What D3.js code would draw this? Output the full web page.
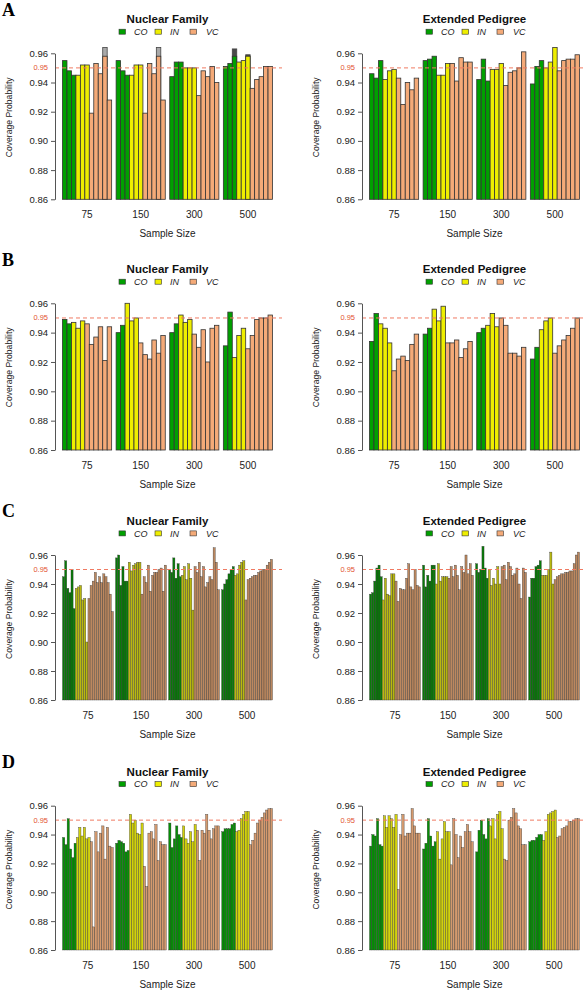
<!DOCTYPE html>
<html><head><meta charset="utf-8">
<script src="https://cdn.jsdelivr.net/npm/d3@7"></script>
<style>body{margin:0;background:#fff}svg{display:block}</style>
</head><body>
<script>
// ---------- data ----------
const sampleSizes = ["75","150","300","500"];
const methods = ["CO","IN","VC"];
const yTicks = [0.86,0.88,0.90,0.92,0.94,0.96];
const refValue = 0.95;
const panelLetters = ["A","B","C","D"];
const designs = ["Nuclear Family","Extended Pedigree"];

// Panel A
const A_nuc_CO = [[0.955,0.948,0.945],[0.955,0.948,0.945],[0.944,0.954,0.954],[0.951,0.953,0.958]];
const A_nuc_IN = [[0.945,0.952,0.952],[0.945,0.952,0.952],[0.950,0.950,0.950],[0.954,0.955,0.958]];
const A_nuc_VC = [[0.919,0.953,0.946,0.958,0.928],[0.919,0.953,0.946,0.958,0.928],[0.931,0.948,0.944,0.951,0.940],[0.936,0.942,0.944,0.951,0.951]];
// overlapping (grey) upper values: [group, method, index, value]
const A_nuc_lightOver = [[0,"VC",3,0.964],[1,"VC",3,0.964]];
const A_nuc_darkOver = [[3,"CO",2,0.963],[3,"IN",2,0.959]];
const A_ext_CO = [[0.946,0.943,0.955],[0.955,0.956,0.958],[0.942,0.956,0.941],[0.939,0.951,0.955]];
const A_ext_IN = [[0.942,0.948,0.949],[0.945,0.945,0.953],[0.949,0.949,0.953],[0.950,0.954,0.964]];
const A_ext_VC = [[0.943,0.925,0.940,0.935,0.943],[0.953,0.941,0.957,0.954,0.954],[0.938,0.947,0.948,0.950,0.961],[0.948,0.955,0.956,0.956,0.959]];

// Panel B
const B_nuc_CO = [[0.949,0.946],[0.940,0.945],[0.940,0.946],[0.931,0.954]];
const B_nuc_IN = [[0.947,0.943,0.948],[0.960,0.948,0.950],[0.952,0.947,0.949],[0.923,0.938,0.943]];
const B_nuc_VC = [[0.946,0.932,0.937,0.944,0.921,0.944],[0.933,0.925,0.922,0.935,0.926,0.938],[0.939,0.930,0.942,0.920,0.943,0.945],[0.929,0.938,0.949,0.950,0.950,0.952]];
const B_ext_CO = [[0.934,0.953],[0.939,0.943],[0.940,0.943],[0.922,0.930]];
const B_ext_IN = [[0.946,0.943,0.933],[0.956,0.948,0.958],[0.945,0.953,0.944],[0.942,0.948,0.950]];
const B_ext_VC = [[0.914,0.922,0.924,0.921,0.932,0.939],[0.933,0.933,0.935,0.923,0.929,0.934],[0.950,0.945,0.926,0.926,0.924,0.930],[0.926,0.931,0.935,0.938,0.943,0.950]];

// Panel C
const C_nuc_CO = [[0.945,0.956,0.937,0.934,0.950,0.923],[0.958,0.960,0.939,0.952,0.942,0.942],[0.950,0.948,0.958,0.944,0.954,0.945],[0.936,0.940,0.943,0.947,0.950,0.952]];
const C_nuc_IN = [[0.937,0.938,0.939,0.929,0.930,0.900],[0.955,0.949,0.953,0.954,0.955,0.955],[0.946,0.952,0.943,0.954,0.944,0.922],[0.946,0.947,0.953,0.955,0.956]];
const C_nuc_VC = [[0.930,0.939,0.942,0.948,0.941,0.945,0.941,0.947,0.945,0.941,0.933,0.921],[0.933,0.945,0.941,0.953,0.935,0.946,0.948,0.948,0.950,0.951,0.935,0.953],[0.952,0.948,0.955,0.945,0.952,0.938,0.941,0.945,0.943,0.965,0.955,0.936],[0.929,0.943,0.944,0.945,0.946,0.946,0.948,0.949,0.950,0.950,0.953,0.955,0.957]];
const C_ext_CO = [[0.933,0.934,0.942,0.951,0.953,0.945],[0.953,0.938,0.946,0.942,0.953,0.953],[0.954,0.948,0.950,0.966,0.951,0.944],[0.931,0.944,0.944,0.952,0.953,0.956]];
const C_ext_IN = [[0.929,0.944,0.933,0.932,0.947,0.947],[0.940,0.954,0.942,0.945,0.945,0.945],[0.950,0.939,0.944,0.940,0.952,0.940],[0.946,0.946,0.946,0.950,0.962,0.940]];
const C_ext_VC = [[0.942,0.928,0.937,0.936,0.936,0.944,0.954,0.938,0.936,0.950,0.939,0.938],[0.944,0.952,0.945,0.953,0.946,0.936,0.952,0.948,0.960,0.947,0.954,0.946],[0.952,0.953,0.943,0.955,0.952,0.946,0.947,0.951,0.940,0.930,0.951,0.948],[0.943,0.945,0.946,0.947,0.947,0.948,0.948,0.949,0.949,0.954,0.960,0.962]];

// Panel D
const D_nuc_CO = [[0.938,0.933,0.951,0.930,0.924,0.934],[0.934,0.936,0.935,0.934,0.928,0.929],[0.948,0.931,0.937,0.946,0.940,0.938],[0.942,0.944,0.944,0.944,0.947,0.948]];
const D_nuc_IN = [[0.938,0.945,0.939,0.945,0.937,0.938],[0.954,0.948,0.950,0.941,0.940,0.948],[0.946,0.937,0.934,0.942,0.935,0.947],[0.942,0.943,0.951,0.954,0.956,0.956]];
const D_nuc_VC = [[0.935,0.876,0.942,0.928,0.941,0.946,0.923,0.945,0.932,0.931],[0.918,0.904,0.941,0.942,0.937,0.947,0.922,0.935,0.933,0.933],[0.943,0.922,0.943,0.941,0.954,0.943,0.937,0.944,0.946,0.946],[0.933,0.936,0.941,0.948,0.950,0.952,0.955,0.957,0.958,0.958]];
const D_ext_CO = [[0.932,0.940,0.939,0.951,0.933,0.932],[0.930,0.934,0.951,0.939,0.932,0.935],[0.928,0.943,0.950,0.940,0.937,0.951],[0.935,0.936,0.936,0.938,0.940,0.940]];
const D_ext_IN = [[0.953,0.945,0.953,0.951,0.945,0.954],[0.942,0.923,0.937,0.949,0.942,0.942],[0.946,0.951,0.937,0.954,0.956,0.944],[0.936,0.942,0.954,0.955,0.956,0.957]];
const D_ext_VC = [[0.902,0.940,0.954,0.939,0.941,0.941,0.958,0.946,0.941,0.941],[0.919,0.951,0.940,0.924,0.939,0.931,0.942,0.947,0.942,0.935],[0.923,0.922,0.950,0.952,0.958,0.955,0.946,0.944,0.933,0.933],[0.938,0.939,0.944,0.945,0.946,0.949,0.949,0.950,0.951,0.951]];

// ---------- layout ----------
const W = 586, H = 992;
const legendColors = {CO:"#00A000", IN:"#EEEE00", VC:"#F4AA78"};
// narrow bars in rows C and D look darker because borders dominate
const rowColors = [
  {CO:"#00A000", IN:"#EEEE00", VC:"#F4AA78"},
  {CO:"#00A000", IN:"#EEEE00", VC:"#F4AA78"},
  {CO:"#087A08", IN:"#B9B810", VC:"#BC885F"},
  {CO:"#068E06", IN:"#D2D20C", VC:"#D49A6E"}
];
const rowY96 = [53.3, 303.3, 555, 805.7];
const rowY86 = [199.3, 450, 700, 950];
const strokeW = [0.8, 0.8, 0.35, 0.35];
const colDX = [0, 307];

const panels = [
  {r:0,c:0,CO:A_nuc_CO,IN:A_nuc_IN,VC:A_nuc_VC,light:A_nuc_lightOver,dark:A_nuc_darkOver},
  {r:0,c:1,CO:A_ext_CO,IN:A_ext_IN,VC:A_ext_VC},
  {r:1,c:0,CO:B_nuc_CO,IN:B_nuc_IN,VC:B_nuc_VC},
  {r:1,c:1,CO:B_ext_CO,IN:B_ext_IN,VC:B_ext_VC},
  {r:2,c:0,CO:C_nuc_CO,IN:C_nuc_IN,VC:C_nuc_VC},
  {r:2,c:1,CO:C_ext_CO,IN:C_ext_IN,VC:C_ext_VC},
  {r:3,c:0,CO:D_nuc_CO,IN:D_nuc_IN,VC:D_nuc_VC},
  {r:3,c:1,CO:D_ext_CO,IN:D_ext_IN,VC:D_ext_VC}
];

const svg = d3.select("body").append("svg").attr("width",W).attr("height",H)
  .style("font-family","'Liberation Sans', Arial, sans-serif");

panels.forEach(p => {
  const dx = colDX[p.c], y96 = rowY96[p.r], y86 = rowY86[p.r];
  const g = svg.append("g");
  const y = d3.scaleLinear().domain([0.86,0.96]).range([y86,y96]);

  const groups = sampleSizes.map((s,gi) => {
    const bars = [];
    methods.forEach(m => p[m][gi].forEach((v,i) => bars.push({m, i, v})));
    return bars;
  });
  const n = d3.max(groups, b => b.length);
  const x0 = d3.scaleBand().domain(sampleSizes).range([dx+62.5, dx+272.5])
    .paddingInner(1/(n+1)).paddingOuter(0);
  const x1 = d3.scaleBand().domain(d3.range(n)).range([0, x0.bandwidth()]);

  // overlays (grey upper parts)
  const overlay = (list, fill) => {
    (list||[]).forEach(([gi,m,i,v]) => {
      const idx = groups[gi].findIndex(b => b.m===m && b.i===i);
      g.append("rect")
        .attr("x", x0(sampleSizes[gi]) + x1(idx))
        .attr("y", y(v))
        .attr("width", x1.bandwidth())
        .attr("height", y86 - y(v))
        .attr("fill", fill).attr("stroke","#444").attr("stroke-width",strokeW[p.r]);
    });
  };
  overlay(p.light, "#A9A9A9");
  overlay(p.dark, "#4A4A4A");

  sampleSizes.forEach((s,gi) => {
    g.selectAll(null).data(groups[gi]).enter().append("rect")
      .attr("x", (d,k) => x0(s) + x1(k))
      .attr("y", d => y(d.v))
      .attr("width", x1.bandwidth())
      .attr("height", d => y86 - y(d.v))
      .attr("fill", d => rowColors[p.r][d.m])
      .attr("stroke", "#333")
      .attr("stroke-width", strokeW[p.r]);
  });

  // red reference line (on top of bars)
  g.append("line").attr("x1",dx+55).attr("x2",dx+282)
    .attr("y1",y(refValue)).attr("y2",y(refValue))
    .attr("stroke","#F07A62").attr("stroke-width",1).attr("stroke-dasharray","4,3");

  // y axis
  const ax = g.append("g").attr("transform",`translate(${dx+55},0)`)
    .call(d3.axisLeft(y).tickValues(yTicks).tickFormat(d3.format(".2f")).tickSize(4).tickSizeOuter(0).tickPadding(3));
  ax.select(".domain").attr("stroke","#555");
  ax.selectAll(".tick line").attr("stroke","#555");
  ax.selectAll(".tick text").attr("fill","#222").style("font-size","9.5px").style("font-family","'Liberation Sans', Arial, sans-serif");

  // red 0.95 label
  g.append("text").attr("x",dx+48).attr("y",y(refValue)).attr("dy","0.32em")
    .attr("text-anchor","end").attr("fill","#E2522E").style("font-size","7.5px").text(refValue.toFixed(2));

  // x group labels
  g.selectAll(null).data(sampleSizes).enter().append("text")
    .attr("x", s => x0(s) + x0.bandwidth()/2).attr("y", y86 + 19)
    .attr("text-anchor","middle").attr("fill","#222").style("font-size","10px").text(s => s);

  g.append("text").attr("x", dx+167.5).attr("y", y86 + 38)
    .attr("text-anchor","middle").attr("fill","#222").style("font-size","10px").text("Sample Size");

  g.append("text").attr("transform",`translate(${dx+11.5},${y96+64}) rotate(-90)`)
    .attr("text-anchor","middle").attr("fill","#222").style("font-size","8.6px").text("Coverage Probability");

  // title
  g.append("text").attr("x", dx+167.5).attr("y", y96 - 30)
    .attr("text-anchor","middle").attr("fill","#111").style("font-size","11.5px").style("font-weight","bold")
    .text(designs[p.c]);

  // legend
  const legX = [119, 155, 190], legTX = [134, 170, 206];
  const ly = y96 - 21.6;
  methods.forEach((m,k) => {
    g.append("rect").attr("x", dx+legX[k]).attr("y", ly-2.5).attr("width",6.5).attr("height",5)
      .attr("fill", legendColors[m]).attr("stroke","#333").attr("stroke-width",0.6);
    g.append("text").attr("x", dx+legTX[k]).attr("y", ly+3.2)
      .attr("fill","#222").style("font-size","9px").style("font-style","italic").text(m);
  });

  // panel letter
  if (p.c === 0) {
    g.append("text").attr("x", 2).attr("y", y96 - 37.8)
      .attr("fill","#000").style("font-family","'Liberation Serif', 'Times New Roman', serif")
      .style("font-weight","bold").style("font-size","18px").text(panelLetters[p.r]);
  }
});
</script>
</body></html>
